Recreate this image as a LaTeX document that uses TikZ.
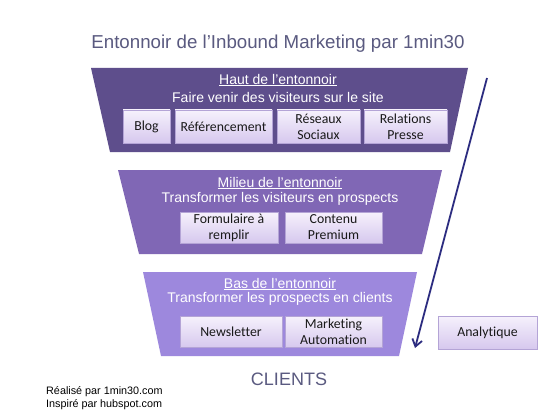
\documentclass[tikz,border=0pt]{standalone}
\usepackage{fontspec}
\setmainfont{Liberation Sans}
\newfontfamily\boxfont[Ligatures=CommonOff]{Carlito}
\usetikzlibrary{arrows.meta}
\definecolor{topc}{HTML}{5E4E8C}
\definecolor{midc}{HTML}{8067B5}
\definecolor{botc}{HTML}{9D88DD}
\definecolor{titlec}{HTML}{5A5A80}
\definecolor{arrowc}{HTML}{2C2C80}
\definecolor{boxtop}{HTML}{F6F1FC}
\definecolor{boxbot}{HTML}{D6C8EE}
\definecolor{boxline}{HTML}{B4A4D6}
\tikzset{
  px/.style={x=1pt,y=-1pt},
  item/.style={draw=boxline, line width=0.6pt, top color=boxtop, bottom color=boxbot,
    font=\boxfont\fontsize{13.8}{16}\selectfont, align=center, inner sep=0pt, text=black!90},
  hdr/.style={text=white, font=\fontsize{14}{16}\selectfont},
}
\begin{document}
\begin{tikzpicture}[px]
\useasboundingbox (0,0) rectangle (560,420);
\fill[white] (0,0) rectangle (560,420);
% title
\node[text=titlec, font=\fontsize{18.7}{22}\selectfont] (title) at (278,44) {Entonnoir de l’Inbound Marketing par 1min30};
% funnels
\fill[topc] (91,68) -- (468,68) -- (450,152) -- (110,152) -- cycle;
\fill[midc] (118,170) -- (442,170) -- (422,254) -- (139,254) -- cycle;
\fill[botc] (143,272) -- (417,272) -- (399,356) -- (161,356) -- cycle;
% headers
\node[hdr] (h1) at (278,80) {\underline{Haut de l’entonnoir}};
\node[hdr] (s1) at (278,97) {Faire venir des visiteurs sur le site};
\node[hdr] (h2) at (280,183) {\underline{Milieu de l’entonnoir}};
\node[hdr] (s2) at (280,199) {Transformer les visiteurs en prospects};
\node[hdr] (h3) at (280,284) {\underline{Bas de l’entonnoir}};
\node[hdr] (s3) at (280,299) {Transformer les prospects en clients};
% boxes
\node[item, minimum width=47pt, minimum height=33pt] (blog) at (146.5,126.5) {Blog};
\node[item, minimum width=97pt, minimum height=33pt] (ref) at (223.5,126.5) {Référencement};
\node[item, minimum width=83pt, minimum height=33pt] (res) at (318.5,126.5) {Réseaux\\Sociaux};
\node[item, minimum width=83pt, minimum height=33pt] (rel) at (405.5,126.5) {Relations\\Presse};
\node[item, minimum width=98pt, minimum height=31pt] (form) at (229,227.5) {Formulaire à\\remplir};
\node[item, minimum width=97pt, minimum height=31pt] (cont) at (333.5,227.5) {Contenu\\Premium};
\node[item, minimum width=102pt, minimum height=31pt] (news) at (231,332) {Newsletter};
\node[item, minimum width=97pt, minimum height=31pt] (auto) at (333.5,332) {Marketing\\Automation};
\node[item, minimum width=99pt, minimum height=33pt] (ana) at (487.5,332.5) {Analytique};
% arrow
\coordinate (a1) at (487,78);
\coordinate (a2) at (415,348);
\draw[arrowc, line width=1.8pt, -{Straight Barb[length=7pt,width=10pt]}] (a1) -- (a2);
% clients
\node[text=titlec, font=\fontsize{18}{20}\selectfont] (clients) at (289,379) {CLIENTS};
% footer
\node[anchor=west, align=left, font=\fontsize{10.8}{12.5}\selectfont, inner sep=0pt] (foot) at (46,398) {Réalisé par 1min30.com\\Inspiré par hubspot.com};
\end{tikzpicture}
\end{document}
